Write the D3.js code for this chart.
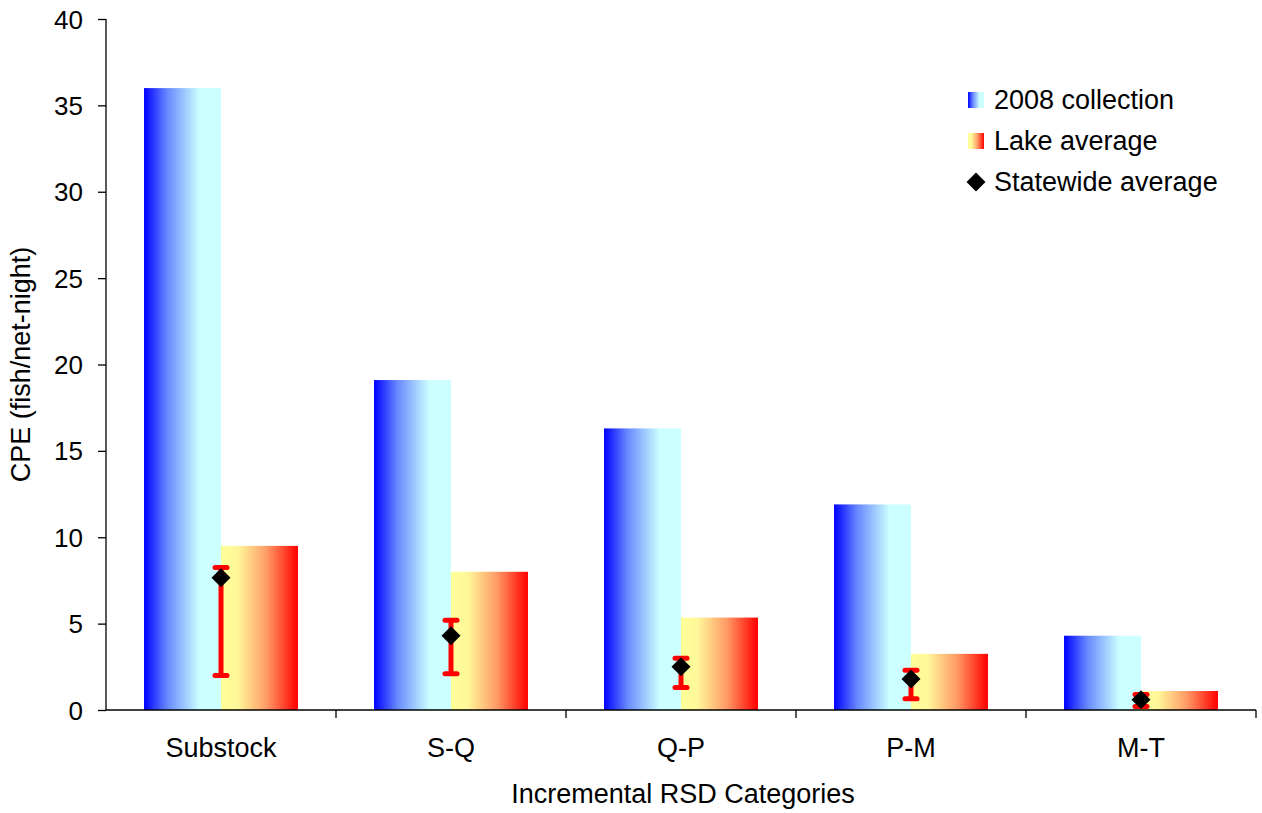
<!DOCTYPE html>
<html>
<head>
<meta charset="utf-8">
<script src="https://cdn.jsdelivr.net/npm/d3@7"></script>
<style>
  body { margin: 0; background: #fff; }
  text { font-family: "Liberation Sans", Arial, sans-serif; fill: #000; }
</style>
</head>
<body>
<svg id="chart" width="1262" height="813"></svg>
<script>
const categories = ["Substock", "S-Q", "Q-P", "P-M", "M-T"];
const collection2008 = [36.0, 19.1, 16.3, 11.9, 4.3];
const lakeAverage = [9.5, 8.0, 5.35, 3.25, 1.1];
const statewideAverage = [7.65, 4.3, 2.5, 1.8, 0.6];
const statewideLower = [2.0, 2.1, 1.3, 0.65, 0.2];
const statewideUpper = [8.25, 5.2, 3.0, 2.3, 0.9];
const yTicks = [0, 5, 10, 15, 20, 25, 30, 35, 40];
const seriesNames = ["2008 collection", "Lake average", "Statewide average"];

const svg = d3.select("#chart");
const m = { left: 106, right: 1256, top: 19, bottom: 710 };

const defs = svg.append("defs");
const gBlue = defs.append("linearGradient").attr("id", "gradBlue").attr("x1", "0%").attr("x2", "100%");
gBlue.append("stop").attr("offset", "0%").attr("stop-color", "#0000ff");
gBlue.append("stop").attr("offset", "30%").attr("stop-color", "#6688ff");
gBlue.append("stop").attr("offset", "72%").attr("stop-color", "#ccffff");
gBlue.append("stop").attr("offset", "100%").attr("stop-color", "#ccffff");
const gRed = defs.append("linearGradient").attr("id", "gradRed").attr("x1", "0%").attr("x2", "100%");
gRed.append("stop").attr("offset", "0%").attr("stop-color", "#ffff99");
gRed.append("stop").attr("offset", "22%").attr("stop-color", "#fff799");
gRed.append("stop").attr("offset", "60%").attr("stop-color", "#ff9966");
gRed.append("stop").attr("offset", "100%").attr("stop-color", "#ff0000");

const x = d3.scaleBand().domain(categories).range([m.left, m.right]).paddingInner(0).paddingOuter(0);
const y = d3.scaleLinear().domain([0, 40]).range([m.bottom, m.top]);
const inner = d3.scaleBand().domain(["c", "l"]).range([0, x.bandwidth()]).paddingOuter(0.494).paddingInner(0);

// bars
svg.append("g").selectAll("rect").data(categories).join("rect")
  .attr("x", d => x(d) + inner("c"))
  .attr("y", (d, i) => y(collection2008[i]))
  .attr("width", inner.bandwidth())
  .attr("height", (d, i) => y(0) - y(collection2008[i]))
  .attr("fill", "url(#gradBlue)");
svg.append("g").selectAll("rect").data(categories).join("rect")
  .attr("x", d => x(d) + inner("l"))
  .attr("y", (d, i) => y(lakeAverage[i]))
  .attr("width", inner.bandwidth())
  .attr("height", (d, i) => y(0) - y(lakeAverage[i]))
  .attr("fill", "url(#gradRed)");

// axes
const yAxis = svg.append("g").attr("transform", `translate(${m.left},0)`)
  .call(d3.axisLeft(y).tickValues(yTicks).tickSize(8).tickPadding(15).tickFormat(d3.format("d")));
yAxis.selectAll("text").style("font-size", "26px").attr("dy", "0.35em");
yAxis.select(".domain").attr("stroke", "#000").attr("stroke-width", 1.3).attr("d", `M0,${m.top}V${m.bottom}`);
yAxis.selectAll(".tick line").attr("stroke", "#000").attr("stroke-width", 1.3);

const xAxisG = svg.append("g").attr("transform", `translate(0,${m.bottom})`);
xAxisG.append("line").attr("x1", m.left).attr("x2", m.right).attr("stroke", "#000").attr("stroke-width", 1.3);
xAxisG.selectAll("line.tk").data(categories).join("line")
  .attr("class", "tk")
  .attr("x1", d => x(d) + x.bandwidth())
  .attr("x2", d => x(d) + x.bandwidth())
  .attr("y1", 0).attr("y2", 8).attr("stroke", "#000").attr("stroke-width", 1.3);
xAxisG.selectAll("text").data(categories).join("text")
  .attr("x", d => x(d) + x.bandwidth() / 2)
  .attr("y", 47)
  .attr("text-anchor", "middle")
  .style("font-size", "27px")
  .text(d => d);

// error bars
const eb = svg.append("g");
categories.forEach((c, i) => {
  const cx = x(c) + inner("l");
  eb.append("line").attr("x1", cx).attr("x2", cx)
    .attr("y1", y(statewideLower[i])).attr("y2", y(statewideUpper[i]))
    .attr("stroke", "#ff0000").attr("stroke-width", 5);
  [statewideLower[i], statewideUpper[i]].forEach(v => {
    eb.append("line").attr("x1", cx - 6).attr("x2", cx + 6)
      .attr("y1", y(v)).attr("y2", y(v))
      .attr("stroke", "#ff0000").attr("stroke-width", 5).attr("stroke-linecap", "round");
  });
});
// diamonds
const diamond = d3.symbol().type(d3.symbolSquare).size(180);
svg.append("g").selectAll("path").data(categories).join("path")
  .attr("d", diamond)
  .attr("transform", (d, i) => `translate(${x(d) + inner("l")},${y(statewideAverage[i])}) rotate(45)`)
  .attr("fill", "#000");

// axis titles
svg.append("text").attr("x", 683).attr("y", 803)
  .attr("text-anchor", "middle").style("font-size", "27px").text("Incremental RSD Categories");
svg.append("text").attr("transform", `translate(21,${(m.top + m.bottom) / 2}) rotate(-90)`)
  .attr("text-anchor", "middle").attr("dy", "0.35em").style("font-size", "27px").text("CPE (fish/net-night)");

// legend
const lg = svg.append("g").attr("transform", "translate(968,0)");
const rows = [100, 141, 182];
lg.append("rect").attr("x", 0).attr("y", rows[0] - 8).attr("width", 16).attr("height", 16).attr("fill", "url(#gradBlue)");
lg.append("rect").attr("x", 0).attr("y", rows[1] - 8).attr("width", 16).attr("height", 16).attr("fill", "url(#gradRed)");
lg.append("path").attr("d", d3.symbol().type(d3.symbolSquare).size(180)).attr("transform", `translate(8,${rows[2]}) rotate(45)`).attr("fill", "#000");
lg.selectAll("text").data(seriesNames).join("text")
  .attr("x", 26).attr("y", (d, i) => rows[i]).attr("dy", "0.35em")
  .style("font-size", "27px").text(d => d);
</script>
</body>
</html>
